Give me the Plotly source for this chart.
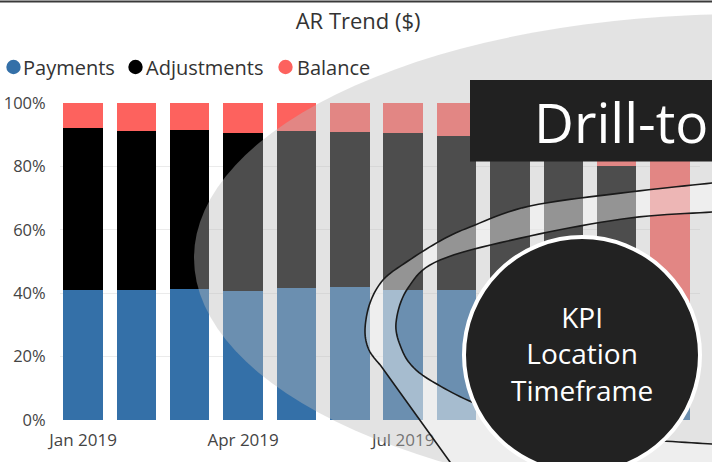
import plotly.graph_objects as go

# ---------------- data ----------------
months = ["Jan 2019", "Feb 2019", "Mar 2019", "Apr 2019", "May 2019", "Jun 2019",
          "Jul 2019", "Aug 2019", "Sep 2019", "Oct 2019", "Nov 2019", "Dec 2019"]
payments = [41.0, 41.0, 41.4, 40.7, 41.7, 42.0, 41.0, 41.0, 41.0, 40.5, 40.0, 33.0]
adjustments = [51.2, 50.2, 50.1, 49.7, 49.5, 48.9, 49.4, 48.7, 48.0, 47.0, 40.1, 4.2]
balance = [7.8, 8.8, 8.5, 9.6, 8.8, 9.1, 9.6, 10.3, 11.0, 12.5, 19.9, 62.8]
tick_months = ["Jan 2019", "Apr 2019", "Jul 2019", "Oct 2019"]
y_ticks = [0, 20, 40, 60, 80, 100]
y_tick_labels = ["0%", "20%", "40%", "60%", "80%", "100%"]
series_names = ["Payments", "Adjustments", "Balance"]
series_colors = ["#3470a8", "#000000", "#fd625e"]

FONT = "Open Sans"
W_FIG, H_FIG = 712, 462
L, R, T, B = 60, 700, 103, 420     # plot area in pixels
PW, PH = R - L, B - T


def px(x):
    return (x - L) / PW


def py(y):
    return (B - y) / PH


def catmull(pts, n=10):
    out = []
    ext = [pts[0]] + pts + [pts[-1]]
    for i in range(1, len(ext) - 2):
        p0, p1, p2, p3 = ext[i - 1], ext[i], ext[i + 1], ext[i + 2]
        for k in range(n):
            t = k / n
            t2, t3 = t * t, t * t * t
            x = 0.5 * ((2 * p1[0]) + (-p0[0] + p2[0]) * t +
                       (2 * p0[0] - 5 * p1[0] + 4 * p2[0] - p3[0]) * t2 +
                       (-p0[0] + 3 * p1[0] - 3 * p2[0] + p3[0]) * t3)
            y = 0.5 * ((2 * p1[1]) + (-p0[1] + p2[1]) * t +
                       (2 * p0[1] - 5 * p1[1] + 4 * p2[1] - p3[1]) * t2 +
                       (-p0[1] + 3 * p1[1] - 3 * p2[1] + p3[1]) * t3)
            out.append((x, y))
    out.append(pts[-1])
    return out


def path(points, close=False):
    s = "M " + " L ".join(f"{px(x):.5f},{py(y):.5f}" for x, y in points)
    return s + (" Z" if close else "")


fig = go.Figure()
for name, vals, col in zip(series_names, [payments, adjustments, balance], series_colors):
    fig.add_trace(go.Bar(x=months, y=vals, name=name, marker_color=col,
                         marker_line_width=0, width=0.74, showlegend=False,
                         hoverinfo="skip"))

pitch = (670 - 83) / 11.0
x0 = -(83 - L) / pitch
x1 = x0 + PW / pitch

fig.update_layout(
    width=W_FIG, height=H_FIG,
    margin=dict(l=L, r=W_FIG - R, t=T, b=H_FIG - B, pad=0, autoexpand=False),
    barmode="stack",
    paper_bgcolor="white", plot_bgcolor="white",
    font=dict(family=FONT, color="#444"),
    title=dict(text="AR Trend ($)", x=0.503, xanchor="center", y=1 - 21 / H_FIG,
               yanchor="middle", yref="container", automargin=False,
               font=dict(family=FONT, size=22, color="#333")),
    xaxis=dict(type="category", range=[x0, x1], tickvals=tick_months, ticktext=tick_months,
               showgrid=False, showline=False, zeroline=False, automargin=False,
               ticks="outside", ticklen=5, tickcolor="rgba(0,0,0,0)",
               tickfont=dict(family=FONT, size=17, color="#444")),
    yaxis=dict(range=[0, 100], tickmode="array", tickvals=y_ticks, ticktext=y_tick_labels,
               showgrid=True, gridcolor="#ebebeb", gridwidth=1, zeroline=False,
               showline=False, automargin=False, ticks="outside", ticklen=10,
               tickcolor="rgba(0,0,0,0)",
               tickfont=dict(family=FONT, size=16.5, color="#444")),
    showlegend=False,
)

shapes = []
annotations = []

# manual legend (circles + text)
leg_dots = [13.5, 135.5, 285.5]
leg_text_x = [21, 144, 295]
for cx, tx, name, col in zip(leg_dots, leg_text_x, series_names, series_colors):
    r = 7.2
    shapes.append(dict(type="circle", xref="paper", yref="paper",
                       x0=px(cx - r), x1=px(cx + r), y0=py(67 + r), y1=py(67 - r),
                       fillcolor=col, line=dict(width=0), layer="above"))
    annotations.append(dict(text=name, x=px(tx), y=py(67), xref="paper", yref="paper",
                            xanchor="left", yanchor="middle", showarrow=False,
                            font=dict(family=FONT, size=20, color="#333")))

# top frame line
shapes.append(dict(type="line", xref="paper", yref="paper", x0=px(0), x1=px(712),
                   y0=py(1.5), y1=py(1.5), line=dict(color="#3a3a3a", width=2), layer="above"))

# big translucent ellipse
ecx, ecy, ea, eb = 744, 258, 550, 244
shapes.append(dict(type="circle", xref="paper", yref="paper",
                   x0=px(ecx - ea), x1=px(ecx + ea), y0=py(ecy + eb), y1=py(ecy - eb),
                   fillcolor="rgba(187,187,187,0.41)", line=dict(width=0), layer="above"))

# ribbon curves
outer_pts = [(730, 180.5), (712, 183), (630, 192), (530, 206), (470, 227), (440, 241),
             (405, 263), (383, 280), (370, 303), (365, 330), (369, 350), (381, 366)]
outer = catmull(outer_pts) + [(450, 462), (458, 474)]
inner_upper = [(730, 210.5), (712, 212), (630, 218), (530, 236), (440, 260), (408, 288),
               (396, 323), (402, 350), (414, 368), (435, 383), (474, 403), (540, 428),
               (610, 438), (655, 440.5), (712, 444), (730, 445)]
inner = catmull(inner_upper)

band = outer + [(730, 474)] + list(reversed(inner))
shapes.append(dict(type="path", xref="paper", yref="paper", path=path(band, close=True),
                   fillcolor="rgba(255,255,255,0.40)", line=dict(width=0), layer="above"))
shapes.append(dict(type="path", xref="paper", yref="paper", path=path(outer),
                   line=dict(color="#1a1a1a", width=1.6), layer="above"))
shapes.append(dict(type="path", xref="paper", yref="paper", path=path(inner),
                   line=dict(color="#1a1a1a", width=1.6), layer="above"))

# Drill box
shapes.append(dict(type="rect", xref="paper", yref="paper", x0=px(470), x1=px(720),
                   y0=py(161.5), y1=py(80), fillcolor="#212121", line=dict(width=0),
                   layer="above"))
annotations.append(dict(text="Drill-to", x=px(532), y=py(122), xref="paper", yref="paper",
                        xanchor="left", yanchor="middle", showarrow=False,
                        font=dict(family=FONT, size=55, color="white")))

# KPI circle
ccx, ccy, cr = 582, 355, 118
shapes.append(dict(type="circle", xref="paper", yref="paper",
                   x0=px(ccx - cr), x1=px(ccx + cr), y0=py(ccy + cr), y1=py(ccy - cr),
                   fillcolor="#222222", line=dict(color="white", width=4), layer="above"))
annotations.append(dict(text="KPI<br>Location<br>Timeframe", x=px(582), y=py(353),
                        xref="paper", yref="paper", xanchor="center", yanchor="middle",
                        showarrow=False, align="center",
                        font=dict(family=FONT, size=28, color="white")))

fig.update_layout(shapes=shapes, annotations=annotations)
fig.write_html("out.html", config={"displayModeBar": False},
               post_script="document.body.style.margin='0';document.body.style.padding='0';")
